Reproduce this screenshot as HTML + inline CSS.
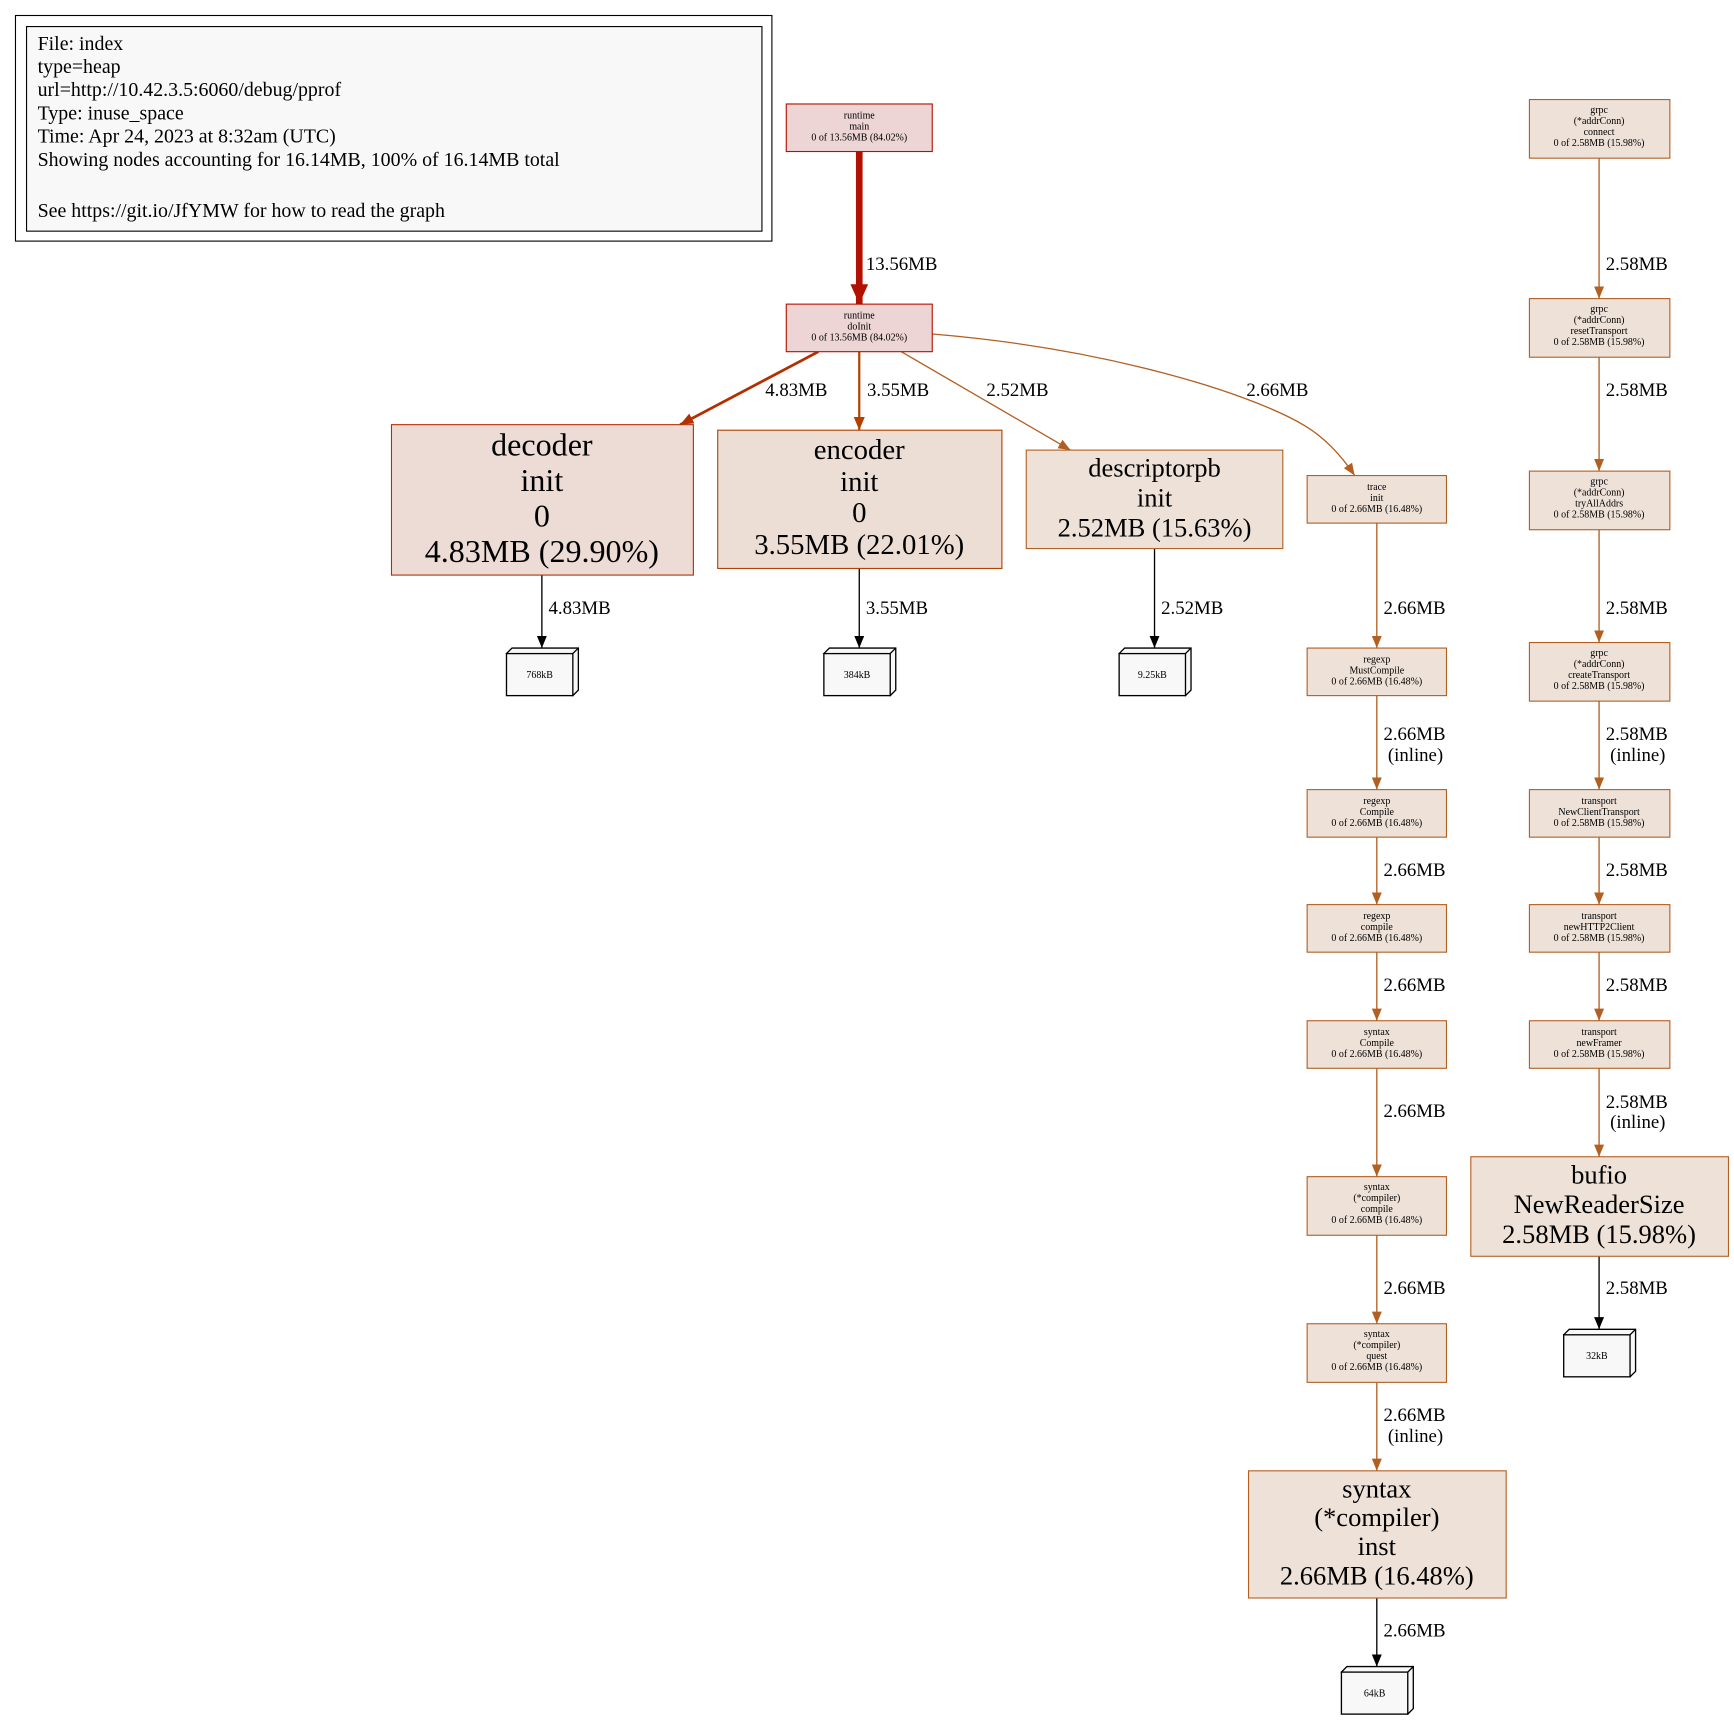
<!DOCTYPE html>
<html><head><meta charset="utf-8"><style>html,body{margin:0;padding:0;background:#fff}svg{display:block}text{font-family:"Liberation Serif",serif;fill:#000}</style></head>
<body>
<svg width="1734" height="1720" viewBox="0 0 1568 1555.3" xmlns="http://www.w3.org/2000/svg">
<defs>
<marker id="mR" markerUnits="userSpaceOnUse" markerWidth="20" markerHeight="20" refX="18" refY="8" orient="auto"><path d="M0,0 L18,8 L0,16 z" fill="#b21000"/></marker>
<marker id="mD" markerUnits="userSpaceOnUse" markerWidth="14" markerHeight="14" refX="12" refY="5" orient="auto"><path d="M0,0 L12,5 L0,10 z" fill="#b23000"/></marker>
<marker id="mE" markerUnits="userSpaceOnUse" markerWidth="14" markerHeight="14" refX="12" refY="5" orient="auto"><path d="M0,0 L12,5 L0,10 z" fill="#b24100"/></marker>
<marker id="mO" markerUnits="userSpaceOnUse" markerWidth="14" markerHeight="14" refX="11" refY="4.5" orient="auto"><path d="M0,0 L11,4.5 L0,9 z" fill="#b25f22"/></marker>
<marker id="mK" markerUnits="userSpaceOnUse" markerWidth="14" markerHeight="14" refX="11" refY="4.5" orient="auto"><path d="M0,0 L11,4.5 L0,9 z" fill="#000"/></marker>
</defs>

<!-- legend -->
<rect x="14" y="14" width="684" height="204" fill="#fff" stroke="#000"/>
<rect x="24" y="24" width="665" height="185" fill="#f8f8f8" stroke="#000"/>
<g font-size="18">
<text x="34" y="45">File: index</text>
<text x="34" y="66">type=heap</text>
<text x="34" y="87">url=http://10.42.3.5:6060/debug/pprof</text>
<text x="34" y="108">Type: inuse_space</text>
<text x="34" y="129">Time: Apr 24, 2023 at 8:32am (UTC)</text>
<text x="34" y="150">Showing nodes accounting for 16.14MB, 100% of 16.14MB total</text>
<text x="34" y="196">See https://git.io/JfYMW for how to read the graph</text>
</g>

<!-- edges -->
<g fill="none">
<line x1="777" y1="137" x2="777" y2="275" stroke="#b21000" stroke-width="6" marker-end="url(#mR)"/>
<line x1="740" y1="318" x2="615" y2="384" stroke="#b23000" stroke-width="2.5" marker-end="url(#mD)"/>
<line x1="777" y1="318" x2="777" y2="389" stroke="#b24100" stroke-width="2" marker-end="url(#mE)"/>
<line x1="815" y1="318" x2="968" y2="407" stroke="#b25f22" stroke-width="1.2" marker-end="url(#mO)"/>
<path d="M843,302 C1000,315 1130,355 1180,385 C1200,397 1215,415 1225,430" stroke="#b25f22" stroke-width="1.2" marker-end="url(#mO)"/>
<g stroke="#b25f22" stroke-width="1.2" marker-end="url(#mO)">
<line x1="1245" y1="473" x2="1245" y2="586"/>
<line x1="1245" y1="629" x2="1245" y2="714"/>
<line x1="1245" y1="757" x2="1245" y2="818"/>
<line x1="1245" y1="861" x2="1245" y2="923"/>
<line x1="1245" y1="966" x2="1245" y2="1064"/>
<line x1="1245" y1="1117" x2="1245" y2="1197"/>
<line x1="1245" y1="1250" x2="1245" y2="1330"/>
<line x1="1446" y1="143" x2="1446" y2="270"/>
<line x1="1446" y1="323" x2="1446" y2="426"/>
<line x1="1446" y1="479" x2="1446" y2="581"/>
<line x1="1446" y1="634" x2="1446" y2="714"/>
<line x1="1446" y1="757" x2="1446" y2="818"/>
<line x1="1446" y1="861" x2="1446" y2="923"/>
<line x1="1446" y1="966" x2="1446" y2="1046"/>
</g>
<g stroke="#000" stroke-width="1.2" marker-end="url(#mK)">
<line x1="490" y1="520" x2="490" y2="586"/>
<line x1="777" y1="514" x2="777" y2="586"/>
<line x1="1044" y1="496" x2="1044" y2="586"/>
<line x1="1245" y1="1445" x2="1245" y2="1507"/>
<line x1="1446" y1="1136" x2="1446" y2="1202"/>
</g>
</g>

<!-- edge labels -->
<g font-size="17">
<text x="783" y="244">13.56MB</text>
<text x="692" y="358">4.83MB</text>
<text x="784" y="358">3.55MB</text>
<text x="892" y="358">2.52MB</text>
<text x="1127" y="358">2.66MB</text>
<text x="496" y="555">4.83MB</text>
<text x="783" y="555">3.55MB</text>
<text x="1050" y="555">2.52MB</text>
<text x="1251" y="555">2.66MB</text>
<text x="1251" y="669">2.66MB</text><text x="1255" y="688">(inline)</text>
<text x="1251" y="792">2.66MB</text>
<text x="1251" y="896">2.66MB</text>
<text x="1251" y="1010">2.66MB</text>
<text x="1251" y="1170">2.66MB</text>
<text x="1251" y="1285">2.66MB</text><text x="1255" y="1304">(inline)</text>
<text x="1251" y="1480">2.66MB</text>
<text x="1452" y="244">2.58MB</text>
<text x="1452" y="358">2.58MB</text>
<text x="1452" y="555">2.58MB</text>
<text x="1452" y="669">2.58MB</text><text x="1456" y="688">(inline)</text>
<text x="1452" y="792">2.58MB</text>
<text x="1452" y="896">2.58MB</text>
<text x="1452" y="1002">2.58MB</text><text x="1456" y="1020">(inline)</text>
<text x="1452" y="1170">2.58MB</text>
</g>

<!-- red nodes -->
<rect x="711" y="94" width="132" height="43" fill="#edd5d5" stroke="#b21000"/>
<g font-size="9" text-anchor="middle"><text x="777" y="107">runtime</text><text x="777" y="117">main</text><text x="777" y="127">0 of 13.56MB (84.02%)</text></g>
<rect x="711" y="275" width="132" height="43" fill="#edd5d5" stroke="#b21000"/>
<g font-size="9" text-anchor="middle"><text x="777" y="288">runtime</text><text x="777" y="298">doInit</text><text x="777" y="308">0 of 13.56MB (84.02%)</text></g>

<!-- big nodes -->
<rect x="354" y="384" width="273" height="136" fill="#eddbd5" stroke="#b23000"/>
<g font-size="29" text-anchor="middle"><text x="490" y="412">decoder</text><text x="490" y="444">init</text><text x="490" y="476">0</text><text x="490" y="508">4.83MB (29.90%)</text></g>
<rect x="649" y="389" width="257" height="125" fill="#edded5" stroke="#b24100"/>
<g font-size="26" text-anchor="middle"><text x="777" y="415">encoder</text><text x="777" y="444">init</text><text x="777" y="472">0</text><text x="777" y="501">3.55MB (22.01%)</text></g>
<rect x="928" y="407" width="232" height="89" fill="#ede1d8" stroke="#b25f22"/>
<g font-size="24" text-anchor="middle"><text x="1044" y="431">descriptorpb</text><text x="1044" y="458">init</text><text x="1044" y="485">2.52MB (15.63%)</text></g>
<rect x="1129" y="1330" width="233" height="115" fill="#ede1d8" stroke="#b25f22"/>
<g font-size="24" text-anchor="middle"><text x="1245" y="1354">syntax</text><text x="1245" y="1380">(*compiler)</text><text x="1245" y="1406">inst</text><text x="1245" y="1433">2.66MB (16.48%)</text></g>
<rect x="1330" y="1046" width="233" height="90" fill="#ede1d8" stroke="#b25f22"/>
<g font-size="24" text-anchor="middle"><text x="1446" y="1070">bufio</text><text x="1446" y="1097">NewReaderSize</text><text x="1446" y="1124">2.58MB (15.98%)</text></g>

<!-- small nodes -->
<g fill="#ede1d8" stroke="#b25f22">
<rect x="1182" y="430" width="126" height="43"/>
<rect x="1182" y="586" width="126" height="43"/>
<rect x="1182" y="714" width="126" height="43"/>
<rect x="1182" y="818" width="126" height="43"/>
<rect x="1182" y="923" width="126" height="43"/>
<rect x="1182" y="1064" width="126" height="53"/>
<rect x="1182" y="1197" width="126" height="53"/>
<rect x="1383" y="90" width="127" height="53"/>
<rect x="1383" y="270" width="127" height="53"/>
<rect x="1383" y="426" width="127" height="53"/>
<rect x="1383" y="581" width="127" height="53"/>
<rect x="1383" y="714" width="127" height="43"/>
<rect x="1383" y="818" width="127" height="43"/>
<rect x="1383" y="923" width="127" height="43"/>
</g>
<g font-size="9" text-anchor="middle">
<text x="1245" y="443">trace</text><text x="1245" y="453">init</text><text x="1245" y="463">0 of 2.66MB (16.48%)</text>
<text x="1245" y="599">regexp</text><text x="1245" y="609">MustCompile</text><text x="1245" y="619">0 of 2.66MB (16.48%)</text>
<text x="1245" y="727">regexp</text><text x="1245" y="737">Compile</text><text x="1245" y="747">0 of 2.66MB (16.48%)</text>
<text x="1245" y="831">regexp</text><text x="1245" y="841">compile</text><text x="1245" y="851">0 of 2.66MB (16.48%)</text>
<text x="1245" y="936">syntax</text><text x="1245" y="946">Compile</text><text x="1245" y="956">0 of 2.66MB (16.48%)</text>
<text x="1245" y="1076">syntax</text><text x="1245" y="1086">(*compiler)</text><text x="1245" y="1096">compile</text><text x="1245" y="1106">0 of 2.66MB (16.48%)</text>
<text x="1245" y="1209">syntax</text><text x="1245" y="1219">(*compiler)</text><text x="1245" y="1229">quest</text><text x="1245" y="1239">0 of 2.66MB (16.48%)</text>
<text x="1446" y="102">grpc</text><text x="1446" y="112">(*addrConn)</text><text x="1446" y="122">connect</text><text x="1446" y="132">0 of 2.58MB (15.98%)</text>
<text x="1446" y="282">grpc</text><text x="1446" y="292">(*addrConn)</text><text x="1446" y="302">resetTransport</text><text x="1446" y="312">0 of 2.58MB (15.98%)</text>
<text x="1446" y="438">grpc</text><text x="1446" y="448">(*addrConn)</text><text x="1446" y="458">tryAllAddrs</text><text x="1446" y="468">0 of 2.58MB (15.98%)</text>
<text x="1446" y="593">grpc</text><text x="1446" y="603">(*addrConn)</text><text x="1446" y="613">createTransport</text><text x="1446" y="623">0 of 2.58MB (15.98%)</text>
<text x="1446" y="727">transport</text><text x="1446" y="737">NewClientTransport</text><text x="1446" y="747">0 of 2.58MB (15.98%)</text>
<text x="1446" y="831">transport</text><text x="1446" y="841">newHTTP2Client</text><text x="1446" y="851">0 of 2.58MB (15.98%)</text>
<text x="1446" y="936">transport</text><text x="1446" y="946">newFramer</text><text x="1446" y="956">0 of 2.58MB (15.98%)</text>
</g>

<!-- cubes -->
<g fill="#f8f8f8" stroke="#000" stroke-width="1.2">
<path d="M458,591 l5,-5 h60 v38 l-5,5 z"/><rect x="458" y="591" width="60" height="38"/><line x1="518" y1="591" x2="523" y2="586"/>
<path d="M745,591 l5,-5 h60 v38 l-5,5 z"/><rect x="745" y="591" width="60" height="38"/><line x1="805" y1="591" x2="810" y2="586"/>
<path d="M1012,591 l5,-5 h60 v38 l-5,5 z"/><rect x="1012" y="591" width="60" height="38"/><line x1="1072" y1="591" x2="1077" y2="586"/>
<path d="M1213,1512 l5,-5 h60 v38 l-5,5 z"/><rect x="1213" y="1512" width="60" height="38"/><line x1="1273" y1="1512" x2="1278" y2="1507"/>
<path d="M1414,1207 l5,-5 h60 v38 l-5,5 z"/><rect x="1414" y="1207" width="60" height="38"/><line x1="1474" y1="1207" x2="1479" y2="1202"/>
</g>
<g font-size="9" text-anchor="middle">
<text x="488" y="613">768kB</text><text x="775" y="613">384kB</text><text x="1042" y="613">9.25kB</text>
<text x="1243" y="1534">64kB</text><text x="1444" y="1229">32kB</text>
</g>
</svg>
</body></html>
